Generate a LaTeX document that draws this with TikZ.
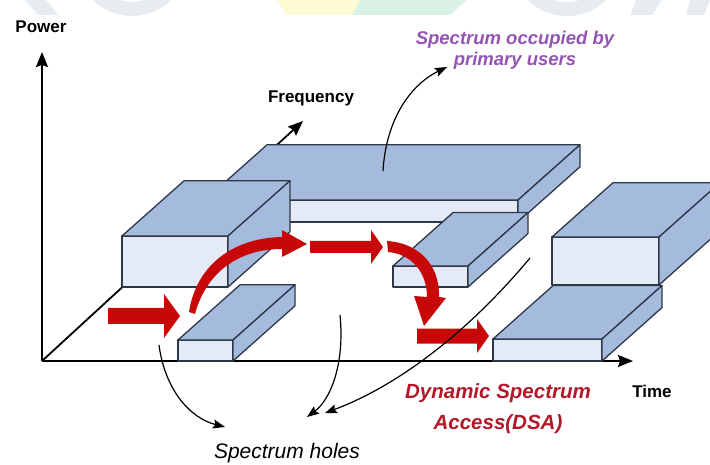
\documentclass[tikz,border=0pt]{standalone}
\usepackage{fontspec}
\setmainfont{Liberation Sans}
\usetikzlibrary{arrows.meta}

\definecolor{boxtop}{RGB}{164,187,221}
\definecolor{boxfront}{RGB}{228,234,246}
\definecolor{boxline}{RGB}{45,55,72}
\definecolor{dsared}{RGB}{200,8,8}
\definecolor{dsatext}{RGB}{178,24,40}
\definecolor{puser}{RGB}{148,84,180}
\definecolor{wmgrey}{RGB}{230,236,239}
\definecolor{wmyellow}{RGB}{255,250,210}
\definecolor{wmgreen}{RGB}{218,241,230}

% channel block, oblique view: x, y of front bottom left, width, height, depth
\newcommand{\chan}[5]{%
  \filldraw[box, fill=boxfront] (#1,#2) rectangle ++(#3,-#4);
  \filldraw[box, fill=boxtop] (#1,#2-#4) -- ++(#3,0) -- ++(#5,-0.89*#5) -- ++(-#3,0) -- cycle;
  \filldraw[box, fill=boxtop] (#1+#3,#2) -- ++(0,-#4) -- ++(#5,-0.89*#5) -- ++(0,#4) -- cycle;
}
% straight hop arrow: tail x, tip x, centre y, half body, half head, head length
\newcommand{\hop}[6]{%
  \fill[dsared] (#1,#3-#4) -- (#2-#6,#3-#4) -- (#2-#6,#3-#5) -- (#2,#3)
    -- (#2-#6,#3+#5) -- (#2-#6,#3+#4) -- (#1,#3+#4) -- cycle;
}

\begin{document}
\begin{tikzpicture}[x=1pt, y=-1pt,
    box/.style={draw=boxline, line width=1.3pt, line join=round},
    axis/.style={line width=1.8pt, -{Stealth[length=15pt, width=12pt, inset=2pt]}},
    note/.style={line width=1.2pt, -{Stealth[length=12pt, width=9pt, inset=2pt]}},
    lbl/.style={font=\fontsize{17}{20}\selectfont\bfseries, inner sep=0pt},
    occ/.style={font=\fontsize{18.5}{21}\selectfont\bfseries\itshape, text=puser, align=center, inner sep=0pt},
    dsa/.style={font=\fontsize{20.5}{31}\selectfont\bfseries\itshape, text=dsatext, align=center, inner sep=0pt},
    holes/.style={font=\fontsize{21}{24}\selectfont\itshape, inner sep=0pt}]
  \useasboundingbox (0,0) rectangle (710,465);
  \clip (0,0) rectangle (710,465);

  % faint banner along the top edge
  \fill[wmgrey] (25,0) -- (46,0) -- (58,15) -- (38,15) -- cycle;
  \fill[wmgrey, even odd rule] (132,-40) circle[radius=56] (132,-40) circle[radius=42];
  \fill[wmyellow] (277,0) -- (360,0) -- (352,15) -- (287,15) -- cycle;
  \fill[wmgreen] (360,0) -- (467,0) -- (450,15) -- (352,15) -- cycle;
  \fill[wmgrey, even odd rule] (567,-40) circle[radius=56] (567,-40) circle[radius=42];
  \fill[wmgrey] (636,0) -- (662,0) -- (652,15) -- (630,15) -- cycle;
  \fill[wmgrey] (690,0) -- (710,0) -- (704,15) -- (686,15) -- cycle;

  % axes
  \coordinate (O) at (42,361);
  \coordinate (pw) at (42,52);
  \coordinate (tm) at (633,361);
  \coordinate (fq) at (303,121);
  \draw[axis] (O) -- (pw);
  \draw[axis] (O) -- (tm);
  \draw[axis] (O) -- (fq);

  % occupied channels
  \chan{205}{222}{313}{22}{62}
  \chan{122}{287}{106}{51}{62}
  \chan{393}{287}{75}{21}{60}
  \chan{552}{285}{107}{48}{61}
  \chan{493}{361}{109}{22}{60}
  \chan{178}{361}{55}{21}{62}

  % hops of the secondary user
  \hop{108}{180}{316}{8}{22}{16}
  \fill[dsared] (189,312) .. controls (196,266) and (232,238) .. (282,237)
    -- (282,230) -- (307,244) -- (282,257) -- (282,249)
    .. controls (238,249) and (206,273) .. (195,314) -- cycle;
  \hop{310}{383}{247}{6}{17}{12}
  \fill[dsared] (387,241) .. controls (419,243) and (440,265) .. (439,297)
    -- (446,298) -- (424,326) -- (414,296) -- (427,297)
    .. controls (427,273) and (412,254) .. (388,252) -- cycle;
  \hop{417}{489}{336}{7.5}{17}{12}

  % labels
  \node[lbl, anchor=base] (power) at (41,33) {Power};
  \node[lbl, anchor=base] (freq) at (311,103) {Frequency};
  \node[lbl, anchor=base] (time) at (652,397) {Time};
  \node[occ, anchor=base] (occ) at (515,66) {Spectrum occupied by\\primary users};
  \node[dsa, anchor=base] (dsa) at (498,429) {Dynamic Spectrum\\Access(DSA)};
  \node[holes, anchor=base] (holes) at (287,458) {Spectrum holes};

  % pointers
  \coordinate (pu) at (383,171);
  \coordinate (pu-tip) at (447,67);
  \draw[note] (pu) .. controls (386,120) and (410,85) .. (pu-tip);
  \coordinate (h1) at (159,345);
  \coordinate (h2) at (340,315);
  \coordinate (h3) at (530,258);
  \coordinate (h1-tip) at (225,427);
  \coordinate (h2-tip) at (307,417);
  \coordinate (h3-tip) at (325,413);
  \draw[note] (h1) .. controls (165,390) and (190,418) .. (h1-tip);
  \draw[note] (h2) .. controls (345,365) and (330,400) .. (h2-tip);
  \draw[note] (h3) .. controls (470,330) and (400,385) .. (h3-tip);
\end{tikzpicture}
\end{document}
